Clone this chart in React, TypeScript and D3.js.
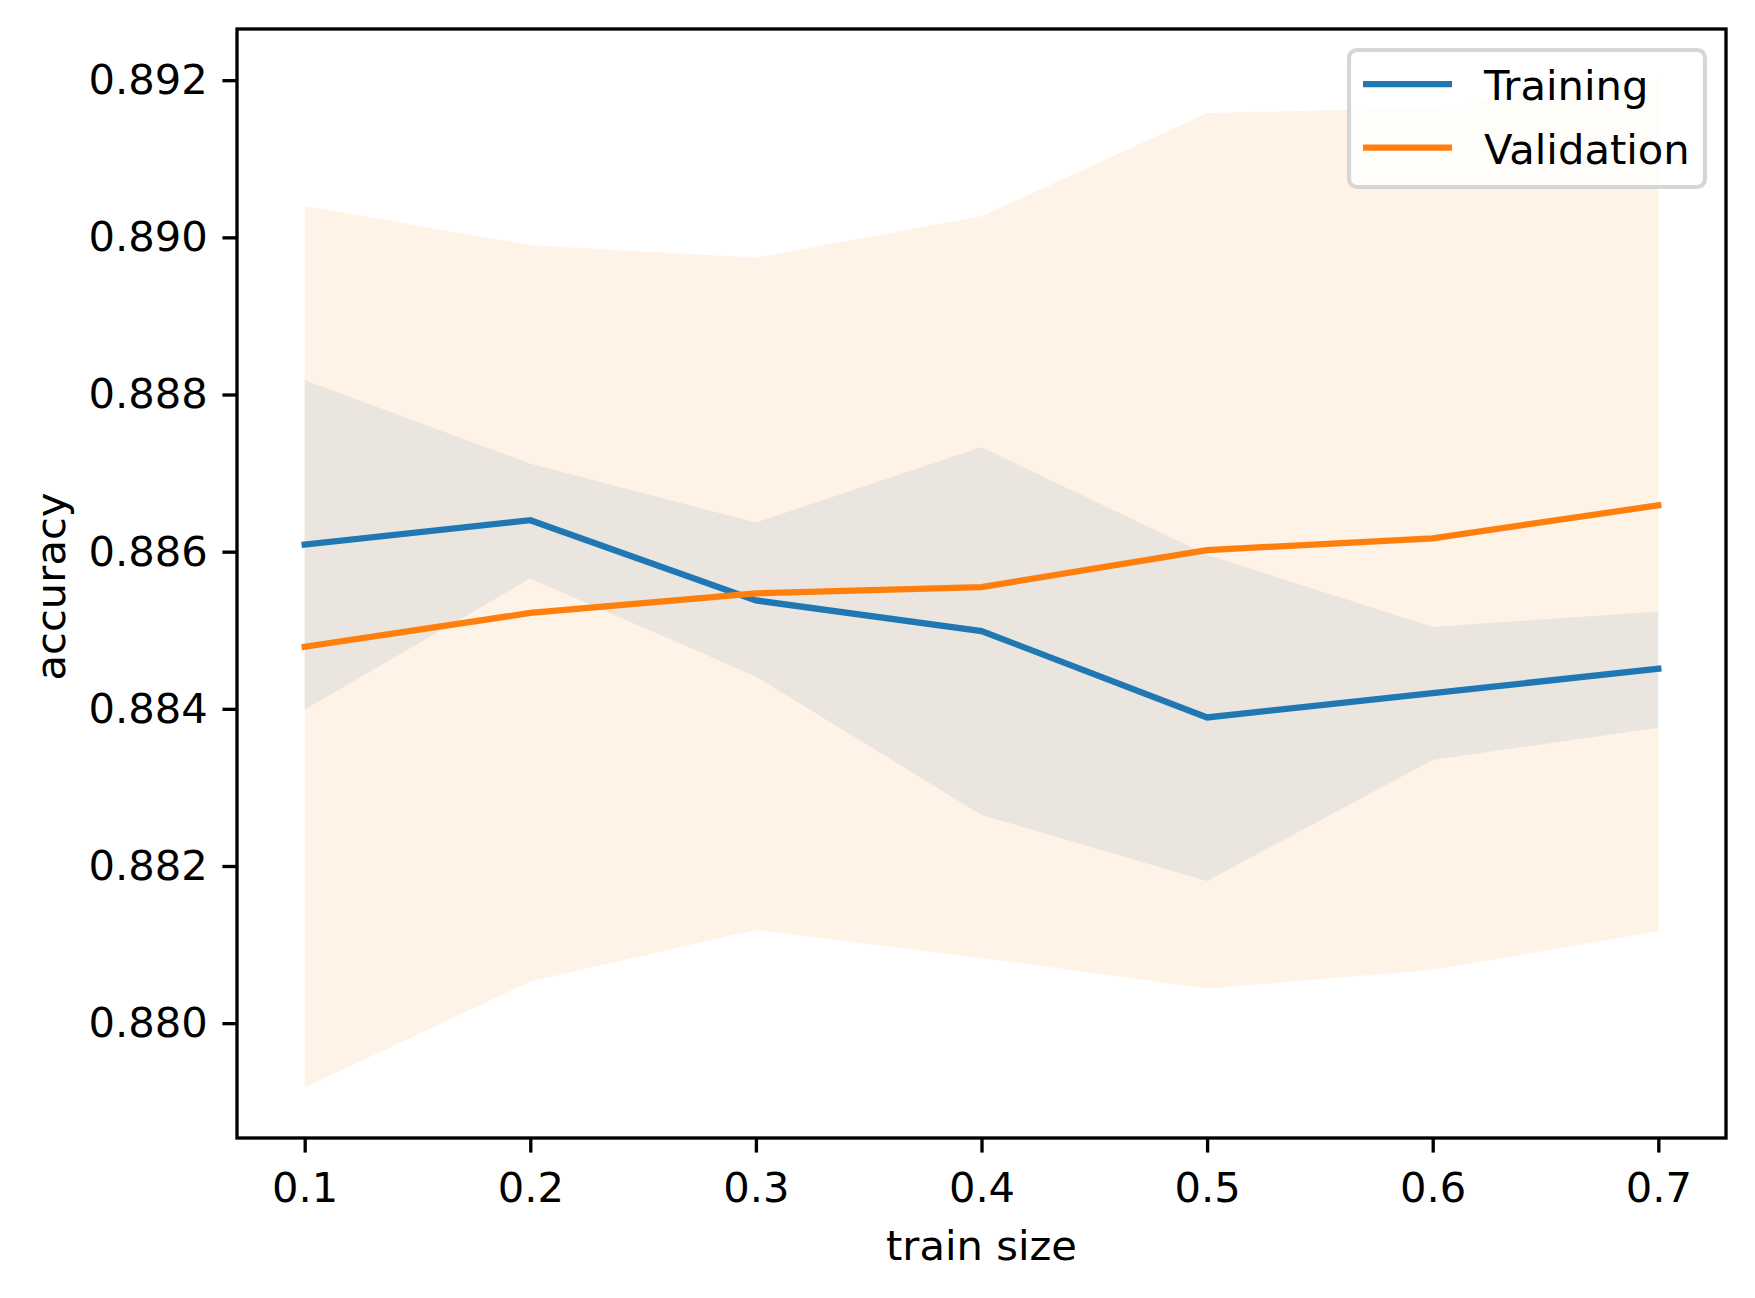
import { useEffect, useRef } from 'react';
import * as d3 from 'd3';

const trainSizes = [0.1, 0.2, 0.3, 0.4, 0.5, 0.6, 0.7];
const trainMean = [0.88609, 0.8864, 0.88538, 0.88499, 0.88389, 0.8842, 0.88451];
const trainUpper = [0.88818, 0.88712, 0.88637, 0.88733, 0.88596, 0.88504, 0.88524];
const trainLower = [0.88399, 0.88566, 0.88441, 0.88265, 0.88181, 0.88335, 0.88376];
const valMean = [0.88479, 0.88522, 0.88547, 0.88555, 0.88602, 0.88617, 0.88659];
const valUpper = [0.8904, 0.8899, 0.88974, 0.89027, 0.89158, 0.89165, 0.89201];
const valLower = [0.87918, 0.88053, 0.88119, 0.88083, 0.88044, 0.88068, 0.88117];
const xTicks = [0.1, 0.2, 0.3, 0.4, 0.5, 0.6, 0.7];
const yTicks = [0.88, 0.882, 0.884, 0.886, 0.888, 0.89, 0.892];
const seriesNames = ['Training', 'Validation'];

const BLUE = '#1f77b4';
const ORANGE = '#ff7f0e';

const App = () => {
  const ref = useRef<SVGSVGElement>(null);

  useEffect(() => {
    if (!ref.current) return;
    const width = 1755;
    const height = 1298;
    const margin = { top: 29, right: 29, bottom: 160, left: 237 };
    const pt = 300 / 72; // px per point
    const font = 10 * pt;

    const svg = d3.select(ref.current);
    svg.selectAll('*').remove();

    // matplotlib-style 5% padding
    const xExt = d3.extent(trainSizes) as [number, number];
    const xPad = (xExt[1] - xExt[0]) * 0.05;
    const allY = [...trainUpper, ...trainLower, ...valUpper, ...valLower, ...trainMean, ...valMean];
    const yExt = d3.extent(allY) as [number, number];
    const yPad = (yExt[1] - yExt[0]) * 0.05;

    const x = d3.scaleLinear()
      .domain([xExt[0] - xPad, xExt[1] + xPad])
      .range([margin.left, width - margin.right]);
    const y = d3.scaleLinear()
      .domain([yExt[0] - yPad, yExt[1] + yPad])
      .range([height - margin.bottom, margin.top]);

    const band = (lo: number[], hi: number[]) =>
      d3.area<number>()
        .x((_, i) => x(trainSizes[i]))
        .y0((_, i) => y(lo[i]))
        .y1((_, i) => y(hi[i]))(trainSizes);

    const line = (vals: number[]) =>
      d3.line<number>()
        .x((_, i) => x(trainSizes[i]))
        .y((_, i) => y(vals[i]))(trainSizes);

    const plot = svg.append('g');

    // bands
    plot.append('path').attr('d', band(trainLower, trainUpper)!)
      .attr('fill', BLUE).attr('fill-opacity', 0.1);
    plot.append('path').attr('d', band(valLower, valUpper)!)
      .attr('fill', ORANGE).attr('fill-opacity', 0.1);

    // lines
    plot.append('path').attr('d', line(trainMean)!)
      .attr('fill', 'none').attr('stroke', BLUE).attr('stroke-width', 1.5 * pt)
      .attr('stroke-linecap', 'square');
    plot.append('path').attr('d', line(valMean)!)
      .attr('fill', 'none').attr('stroke', ORANGE).attr('stroke-width', 1.5 * pt)
      .attr('stroke-linecap', 'square');

    const tickLen = 3.5 * pt;

    // X axis
    svg.append('g')
      .attr('transform', `translate(0,${height - margin.bottom})`)
      .call(d3.axisBottom(x).tickValues(xTicks).tickFormat(d3.format('.1f'))
        .tickSize(tickLen).tickPadding(3.5 * pt + 5).tickSizeOuter(0))
      .call(g => g.select('.domain').remove())
      .call(g => g.selectAll('.tick line').attr('stroke', '#000').attr('stroke-width', 0.8 * pt))
      .call(g => g.selectAll('.tick text')
        .attr('fill', '#000').attr('font-size', font).attr('font-family', 'DejaVu Sans'));

    // Y axis
    svg.append('g')
      .attr('transform', `translate(${margin.left},0)`)
      .call(d3.axisLeft(y).tickValues(yTicks).tickFormat(d3.format('.3f'))
        .tickSize(tickLen).tickPadding(3.5 * pt).tickSizeOuter(0))
      .call(g => g.select('.domain').remove())
      .call(g => g.selectAll('.tick line').attr('stroke', '#000').attr('stroke-width', 0.8 * pt))
      .call(g => g.selectAll('.tick text')
        .attr('fill', '#000').attr('font-size', font).attr('font-family', 'DejaVu Sans'));

    // spines
    svg.append('rect')
      .attr('x', margin.left).attr('y', margin.top)
      .attr('width', width - margin.left - margin.right)
      .attr('height', height - margin.top - margin.bottom)
      .attr('fill', 'none').attr('stroke', '#000').attr('stroke-width', 0.8 * pt);

    // axis labels
    svg.append('text')
      .attr('x', (margin.left + width - margin.right) / 2)
      .attr('y', 1260)
      .attr('text-anchor', 'middle')
      .attr('font-size', font).attr('font-family', 'DejaVu Sans')
      .text('train size');
    svg.append('text')
      .attr('transform', `translate(65,${(margin.top + height - margin.bottom) / 2 + 3}) rotate(-90)`)
      .attr('text-anchor', 'middle')
      .attr('font-size', font).attr('font-family', 'DejaVu Sans')
      .text('accuracy');

    // legend
    const lg = svg.append('g');
    lg.append('rect')
      .attr('x', 1349).attr('y', 50).attr('width', 356).attr('height', 137)
      .attr('rx', 8).attr('fill', '#fff').attr('fill-opacity', 0.8)
      .attr('stroke', '#d6d6d6').attr('stroke-width', 1 * pt);
    [BLUE, ORANGE].forEach((c, i) => {
      const cy = 84 + i * 63.5;
      lg.append('line')
        .attr('x1', 1363).attr('x2', 1452).attr('y1', cy).attr('y2', cy)
        .attr('stroke', c).attr('stroke-width', 1.5 * pt);
      lg.append('text')
        .attr('x', 1484).attr('y', cy + 16)
        .attr('font-size', font).attr('font-family', 'DejaVu Sans')
        .text(seriesNames[i]);
    });
  }, []);

  return (
    <svg
      ref={ref}
      width={1755}
      height={1298}
      style={{ position: 'absolute', left: 0, top: 0, background: '#fff' }}
    />
  );
};

export default App;
